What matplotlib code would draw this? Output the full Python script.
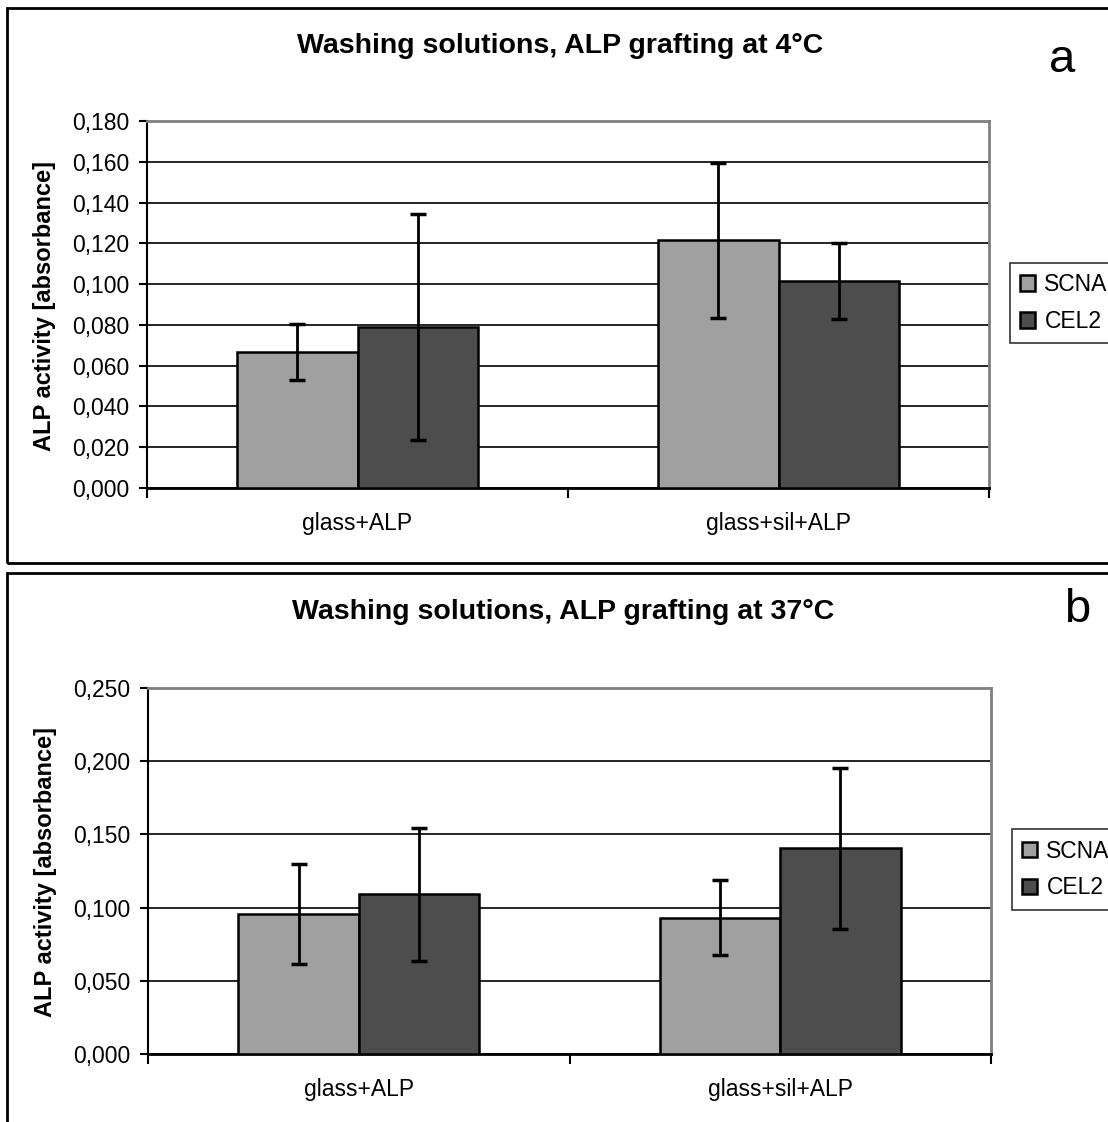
import matplotlib
matplotlib.use('Agg')
import matplotlib.pyplot as plt
import numpy as np
from matplotlib.patches import Rectangle
from matplotlib.ticker import FuncFormatter, MultipleLocator

plt.rcParams['font.family'] = ['Liberation Sans', 'DejaVu Sans']

categories = ['glass+ALP', 'glass+sil+ALP']
series = ['SCNA', 'CEL2']
colors = ['#a0a0a0', '#4d4d4d']

# panel a: grafting at 4°C
scna_4 = [0.0667, 0.1216]
scna_4_err = [0.0135, 0.0380]
cel2_4 = [0.0790, 0.1015]
cel2_4_err = [0.0555, 0.0185]

# panel b: grafting at 37°C
scna_37 = [0.0955, 0.0930]
scna_37_err = [0.0340, 0.0257]
cel2_37 = [0.1090, 0.1405]
cel2_37_err = [0.0455, 0.0550]

W, H = 1108, 1122
fig = plt.figure(figsize=(W / 100, H / 100), dpi=100)

# panel frames
fig.patches.append(Rectangle((7 / W, 1 - 563 / H), 1.2, (563 - 8) / H,
                             transform=fig.transFigure, fill=False,
                             edgecolor='black', lw=2))
fig.patches.append(Rectangle((7 / W, -0.05), 1.2, 0.05 + (1122 - 573) / H,
                             transform=fig.transFigure, fill=False,
                             edgecolor='black', lw=2))


def comma_fmt(v, pos):
    return f"{v:.3f}".replace('.', ',')


def draw_panel(box, scna, scna_err, cel2, cel2_err, ymax, step, title, letter,
               title_xy, letter_xy):
    ax = fig.add_axes(box)
    x = np.arange(len(categories))
    w = 1 / 3.5
    ek = dict(ecolor='black', elinewidth=2, capsize=6, capthick=2.5)
    ax.bar(x - w / 2, scna, w, yerr=scna_err, color=colors[0], edgecolor='black',
           lw=1.8, label=series[0], zorder=3, error_kw=ek)
    ax.bar(x + w / 2, cel2, w, yerr=cel2_err, color=colors[1], edgecolor='black',
           lw=1.8, label=series[1], zorder=3, error_kw=ek)

    ax.set_xlim(-0.5, len(categories) - 0.5)
    ax.set_ylim(0, ymax)
    ax.yaxis.set_major_locator(MultipleLocator(step))
    ax.yaxis.set_major_formatter(FuncFormatter(comma_fmt))
    ax.set_xticks(x)
    ax.set_xticklabels(categories)
    ax.set_xticks(np.arange(len(categories) + 1) - 0.5, minor=True)
    ax.tick_params(axis='x', which='major', length=0, pad=17, labelsize=16.5)
    ax.tick_params(axis='x', which='minor', length=7, width=1.5, direction='out')
    ax.tick_params(axis='y', length=6, width=1.5, direction='out', labelsize=16.5,
                   pad=6.5)
    ax.yaxis.grid(True, color='black', lw=1.2, zorder=0)
    ax.set_axisbelow(True)

    for s in ['top', 'right']:
        ax.spines[s].set_color('#808080')
        ax.spines[s].set_linewidth(2)
    ax.spines['left'].set_color('black')
    ax.spines['left'].set_linewidth(1.5)
    ax.spines['bottom'].set_color('black')
    ax.spines['bottom'].set_linewidth(2)

    ax.set_ylabel('ALP activity [absorbance]', fontsize=17, fontweight='bold')
    ax.yaxis.set_label_coords(-0.108, 0.496)

    leg = ax.legend(loc='center left', bbox_to_anchor=(1.025, 0.504),
                    fontsize=16.5, frameon=True, fancybox=False,
                    borderaxespad=0, handlelength=0.65, handleheight=0.65,
                    handletextpad=0.4, labelspacing=0.6, borderpad=0.45)
    leg.get_frame().set_edgecolor('black')
    leg.get_frame().set_linewidth(1.2)

    fig.text(title_xy[0] / W, 1 - title_xy[1] / H, title, ha='center',
             va='center', fontsize=20.5, fontweight='bold')
    fig.text(letter_xy[0] / W, 1 - letter_xy[1] / H, letter, ha='center',
             va='center', fontsize=34)
    return ax


draw_panel([147 / W, 1 - 488 / H, (989 - 147) / W, (488 - 121) / H],
           scna_4, scna_4_err, cel2_4, cel2_4_err, 0.18, 0.02,
           'Washing solutions, ALP grafting at 4°C', 'a', (560, 46), (1062, 60))
draw_panel([148 / W, 1 - 1054 / H, (991 - 148) / W, (1054 - 688) / H],
           scna_37, scna_37_err, cel2_37, cel2_37_err, 0.25, 0.05,
           'Washing solutions, ALP grafting at 37°C', 'b', (563, 612), (1077, 610))

fig.savefig('out.png', dpi=100)
